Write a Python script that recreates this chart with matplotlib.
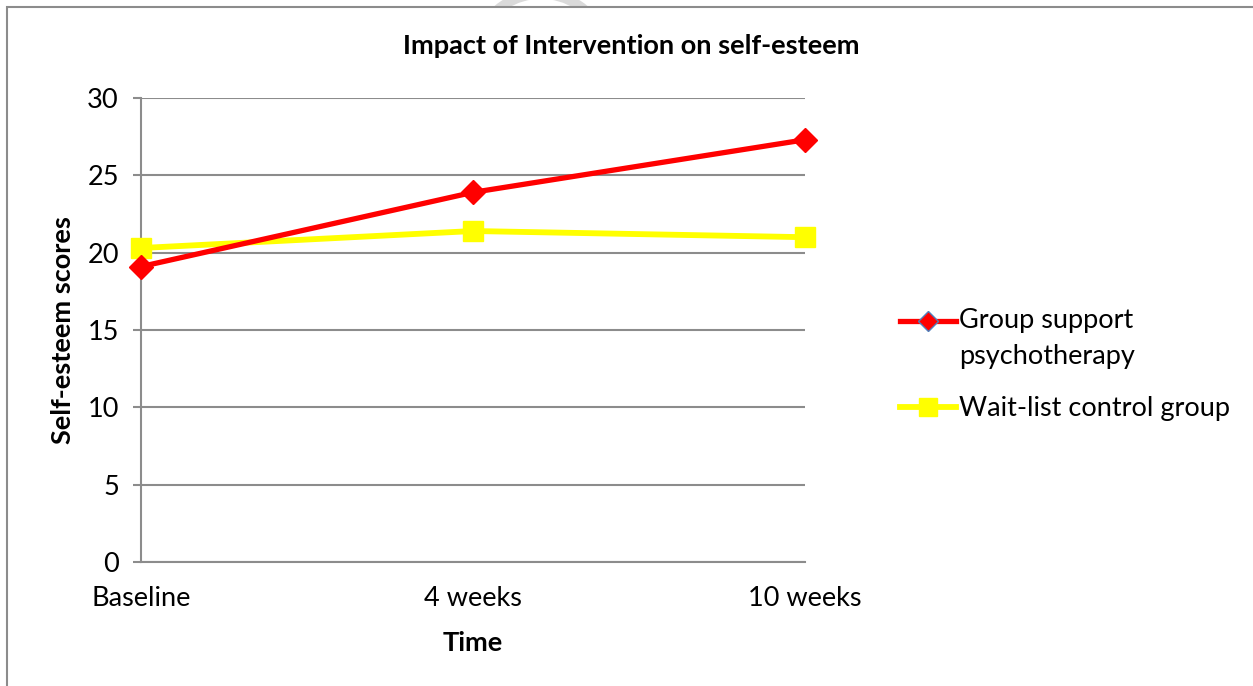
import numpy as np
import matplotlib
matplotlib.use('Agg')
import matplotlib.pyplot as plt
import matplotlib.patches as mpatches
import matplotlib.transforms as mtransforms
from matplotlib.lines import Line2D
from matplotlib.legend_handler import HandlerLine2D

# data
time_points = ['Baseline', '4 weeks', '10 weeks']
group_support = [19.1, 23.9, 27.3]
wait_list = [20.3, 21.4, 21.0]
y_ticks = [0, 5, 10, 15, 20, 25, 30]

RED = '#FF0000'
YELLOW = '#FFFF00'
GRID = '#8C8C8C'
FS = 19.5

plt.rcParams['font.family'] = ['Lato', 'DejaVu Sans']

W, H = 1253, 686
fig = plt.figure(figsize=(W / 100, H / 100), dpi=100)

# chart frame (gray border, white inside), faint mark behind it at the top
frame = mpatches.Rectangle((7 / W, -0.1), 1.2, (H - 7) / H + 0.1, transform=fig.transFigure,
                           facecolor='white', edgecolor=GRID, linewidth=1.5, zorder=-1)
fig.patches.append(frame)
mark = mpatches.Arc((541 / W, 1 - 62 / H), 136 / W, 136 / H, theta1=40, theta2=140,
                    transform=fig.transFigure, color='#DADADA', linewidth=7, zorder=-2)
fig.patches.append(mark)

ax = fig.add_axes([141 / W, 1 - 562 / H, (805 - 141) / W, (562 - 98) / H])
x = np.arange(len(time_points))

ax.plot(x, group_support, color=RED, linewidth=3.8, marker='D', markersize=12,
        markerfacecolor=RED, markeredgecolor=RED, clip_on=False, zorder=4)
ax.plot(x, wait_list, color=YELLOW, linewidth=4.2, marker='s', markersize=14.5,
        markerfacecolor=YELLOW, markeredgecolor=YELLOW, clip_on=False, zorder=3)

ax.set_xlim(0, len(time_points) - 1)
ax.set_ylim(0, 30)
ax.set_yticks(y_ticks)
ax.set_xticks(x)
ax.set_xticklabels(time_points)

ax.grid(axis='y', color=GRID, linewidth=1.5)
ax.set_axisbelow(True)
for s in ['top', 'right']:
    ax.spines[s].set_visible(False)
for s in ['left', 'bottom']:
    ax.spines[s].set_color(GRID)
    ax.spines[s].set_linewidth(1.5)

ax.tick_params(axis='y', length=6, width=1.5, color=GRID, pad=10, labelsize=FS)
ax.tick_params(axis='x', length=0, pad=17, labelsize=FS)

ax.set_ylabel('Self-esteem scores', fontsize=FS, fontweight='bold', labelpad=9)
ax.set_xlabel('Time', fontsize=FS, fontweight='bold', labelpad=15)
fig.text(631 / W, 1 - 46 / H, 'Impact of Intervention on self-esteem', ha='center', va='center',
         fontsize=FS, fontweight='bold')


class FirstLineHandler(HandlerLine2D):
    # keep the legend key level with the first line of a wrapped label
    def create_artists(self, legend, orig_handle, xdescent, ydescent, width, height, fontsize, trans):
        shift = mtransforms.Affine2D()
        if '\n' in orig_handle.get_label():
            shift = mtransforms.Affine2D().translate(0, 0.68 * fontsize)
        return super().create_artists(legend, orig_handle, xdescent, ydescent, width, height,
                                      fontsize, shift + trans)


h1 = Line2D([], [], color=RED, linewidth=3.8, marker='D', markersize=10,
            markerfacecolor=RED, markeredgecolor='#4F81BD', markeredgewidth=1,
            label='Group support\npsychotherapy')
h2 = Line2D([], [], color=YELLOW, linewidth=4.2, marker='s', markersize=13,
            markerfacecolor=YELLOW, markeredgecolor=YELLOW, label='Wait-list control group')
leg = fig.legend(handles=[h1, h2], loc='upper left', bbox_to_anchor=(900 / W, 1 - 308 / H),
                 frameon=False, fontsize=FS, handlelength=2.05, handletextpad=0.12,
                 labelspacing=1.0, borderpad=0, borderaxespad=0,
                 handler_map={h1: FirstLineHandler(), h2: FirstLineHandler()})
for t in leg.get_texts():
    t.set_linespacing(1.55)

fig.savefig('out.png', dpi=100, facecolor='white')
